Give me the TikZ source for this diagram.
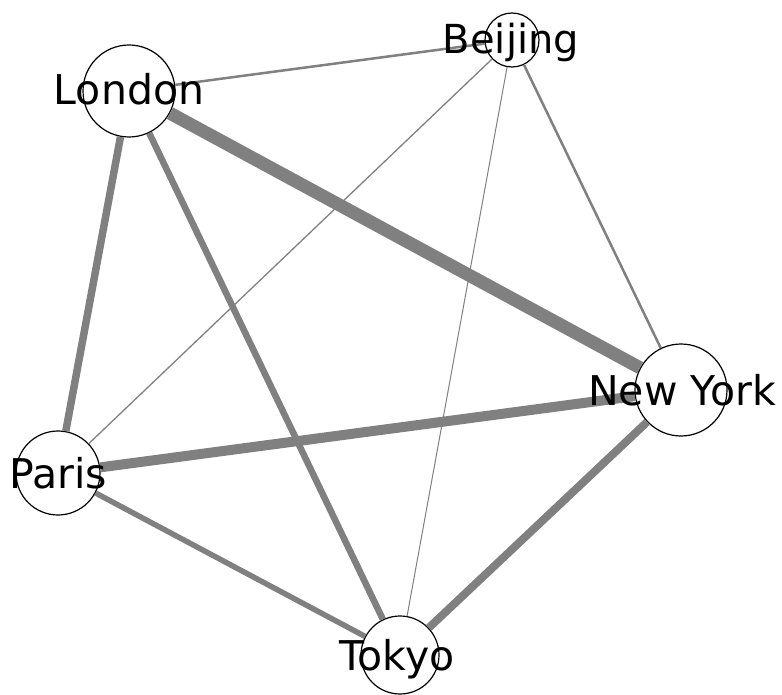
\documentclass[tikz,border=0pt]{standalone}
\usepackage{fontspec}
\setmainfont{DejaVu Sans}
\definecolor{edgegray}{RGB}{128,128,128}
\begin{document}
\begin{tikzpicture}[x=1pt,y=-1pt]
\tikzset{city/.style={draw,circle,fill=white,
                      inner sep=0pt,
                      line width=1.2pt},
         citylabel/.style={inner sep=0pt,
                      text height=30pt,
                      text depth=0pt,
                      font=\fontsize{41}{41}\selectfont},
         link/.style={draw=edgegray}
}
\useasboundingbox (0,0) rectangle (782,695);
\node[city,minimum size=92pt] (L) at (129,91)  {};
\node[city,minimum size=54pt] (B) at (512,40)  {};
\node[city,minimum size=92pt] (N) at (681,390) {};
\node[city,minimum size=84pt] (P) at (58,473)  {};
\node[city,minimum size=78pt] (T) at (400,655) {};
\draw[link,line width=13pt]  (L) -- (N);
\draw[link,line width=10pt]  (P) -- (N);
\draw[link,line width=7.5pt] (L) -- (P);
\draw[link,line width=6.5pt] (L) -- (T);
\draw[link,line width=8pt]   (N) -- (T);
\draw[link,line width=5.5pt] (P) -- (T);
\draw[link,line width=2.5pt] (L) -- (B);
\draw[link,line width=2.5pt] (B) -- (N);
\draw[link,line width=1.3pt] (B) -- (P);
\draw[link,line width=1pt]   (B) -- (T);
\node[citylabel] (Ltxt) at (129,90)  {London};
\node[citylabel,font=\fontsize{40}{40}\selectfont] (Btxt) at (511,39) {Beijing};
\node[citylabel] (Ntxt) at (682,390) {New York};
\node[citylabel] (Ptxt) at (58,473)  {Paris};
\node[citylabel] (Ttxt) at (397,655) {Tokyo};
\end{tikzpicture}
\end{document}
